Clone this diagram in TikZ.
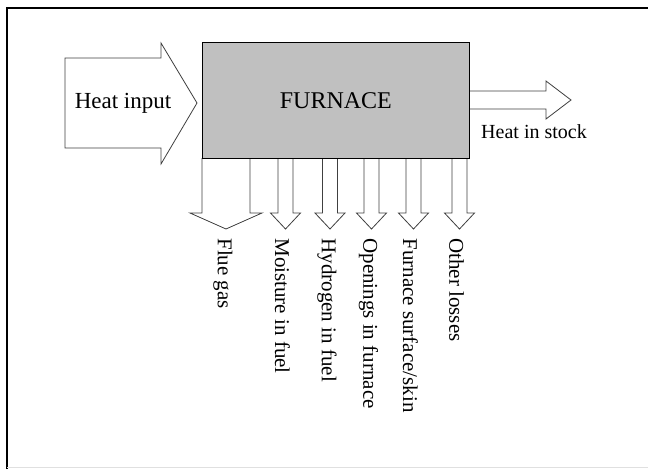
\documentclass[tikz,border=0pt]{standalone}
\usepackage{fontspec}
\setmainfont{Liberation Serif}
\definecolor{furnacegray}{HTML}{C0C0C0}

\begin{document}
\begin{tikzpicture}[x=1pt, y=-1pt, line width=0.8pt,
	flow/.style={draw=black!75, fill=white, line join=miter},
	loss/.style={rotate=-90, anchor=west, inner sep=0pt, font=\fontsize{21}{24}\selectfont}]
	
	\useasboundingbox (0,0) rectangle (648,469);
	
	% frame
	\draw[line width=1.4pt] (7,469) -- (7,8) -- (648,8);
	\draw[black!12] (7,467.5) -- (648,467.5);
	
	% heat input
	\draw[flow] (65,58) -- (161,58) -- (161,43) -- (197,103) -- (161,164) -- (161,148) -- (65,148) -- cycle;
	\node[font=\fontsize{23}{26}\selectfont] (input) at (123,103) {Heat input};
	
	% losses
	\foreach \a/\b/\e/\txt [count=\i] in {202/250/12/{Flue gas}, 278/293/7.5/{Moisture in fuel},
		322.5/337.5/7.5/{Hydrogen in fuel}, 364/379/7.5/{Openings in furnace},
		406/421/7.5/{Furnace surface/skin}, 452/467/7.5/{Other losses}}{
		\draw[flow] (\a,158) -- (\a,213) -- (\a-\e,213) -- ({(\a+\b)/2},229) -- (\b+\e,213) -- (\b,213) -- (\b,158);
		\node[loss] (loss\i) at ({(\a+\b)/2-3},238) {\txt};
	}
	
	% heat in stock
	\draw[flow] (469,91) -- (546,91) -- (546,81) -- (571,100) -- (546,119) -- (546,109) -- (469,109);
	\node[font=\fontsize{20}{24}\selectfont] (stock) at (534,132) {Heat in stock};
	
	% furnace
	\node[draw=black, fill=furnacegray, minimum width=267, minimum height=116, anchor=north west,
		font=\fontsize{24}{28}\selectfont] (furnace) at (202,42) {FURNACE};
	
\end{tikzpicture}
\end{document}
